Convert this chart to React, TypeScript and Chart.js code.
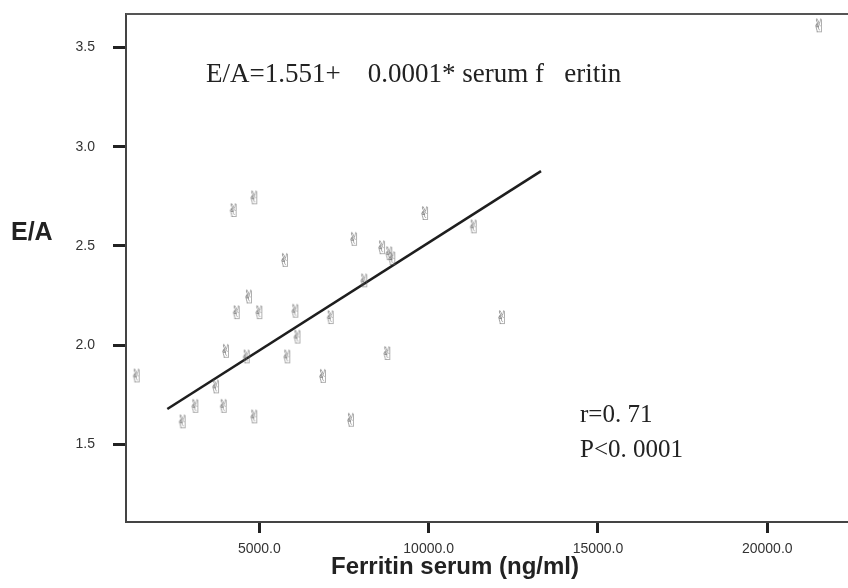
import React, { useEffect, useRef } from "react";
import { Chart, registerables } from "chart.js";

Chart.register(...registerables);

// Ferritin serum (ng/ml) vs E/A
const ferritin = [21527, 1379, 2737, 3110, 3721, 3948, 4016, 4243, 4332, 4627, 4695, 4852, 4852, 5000, 5758, 5826, 6063, 6127, 6880, 7108, 7707, 7796, 8100, 8623, 8838, 8927, 8779, 9893, 11331, 12166];
const ratioEA = [3.601, 1.838, 1.607, 1.685, 1.783, 1.685, 1.962, 2.671, 2.157, 1.934, 2.236, 2.735, 1.632, 2.157, 2.42, 1.934, 2.164, 2.034, 1.836, 2.132, 1.615, 2.526, 2.317, 2.484, 2.454, 2.429, 1.951, 2.656, 2.589, 2.132];
// regression line end points
const fitX = [2283, 13318];
const fitY = [1.679, 2.877];
// axis ticks
const xTicks = [5000, 10000, 15000, 20000];
const yTicks = [1.5, 2.0, 2.5, 3.0, 3.5];
const xRange = [1063, 22384];
const yRange = [1.11, 3.668];
// texts
const xTitle = "Ferritin serum (ng/ml)";
const yTitle = "E/A";
const equationText = "E/A=1.551+    0.0001* serum f   eritin";
const rText = "r=0. 71";
const pText = "P<0. 0001";

function makeMarker(): HTMLCanvasElement {
  const c = document.createElement("canvas");
  c.width = 16;
  c.height = 20;
  const g = c.getContext("2d")!;
  g.font = '18px "DejaVu Sans"';
  g.fillStyle = "#6a6a6a";
  g.textAlign = "center";
  g.textBaseline = "middle";
  g.fillText("\u270C", 8, 10.5);
  return c;
}

const textPlugin = {
  id: "textPlugin",
  afterDraw(chart: any) {
    const ctx = chart.ctx;
    const area = chart.chartArea;
    ctx.save();
    // top frame line
    ctx.strokeStyle = "#555";
    ctx.lineWidth = 2;
    ctx.beginPath();
    ctx.moveTo(area.left, area.top);
    ctx.lineTo(area.right, area.top);
    ctx.stroke();

    ctx.fillStyle = "#222";
    ctx.textBaseline = "middle";
    ctx.textAlign = "left";
    ctx.font = 'bold 25px "Liberation Sans", Arial, sans-serif';
    ctx.fillText(yTitle, 11, 233);
    ctx.textAlign = "center";
    ctx.font = 'bold 24px "Liberation Sans", Arial, sans-serif';
    ctx.fillText(xTitle, 455, 567);

    ctx.textAlign = "left";
    ctx.textBaseline = "alphabetic";
    ctx.font = '27px "Liberation Serif", "Times New Roman", serif';
    ctx.fillText(equationText, 206, 82);
    ctx.font = '25px "Liberation Serif", "Times New Roman", serif';
    ctx.fillText(rText, 580, 422);
    ctx.fillText(pText, 580, 457);
    ctx.restore();
  },
};

export default function App() {
  const ref = useRef<HTMLCanvasElement | null>(null);
  useEffect(() => {
    if (!ref.current) return;
    const marker = makeMarker();
    const tickFont = { family: '"Liberation Sans", Arial, sans-serif', size: 14 };
    const chart = new Chart(ref.current, {
      type: "scatter",
      data: {
        datasets: [
          {
            data: ferritin.map((x, i) => ({ x, y: ratioEA[i] })),
            pointStyle: marker as any,
            pointRadius: 6,
            showLine: false,
          },
          {
            data: fitX.map((x, i) => ({ x, y: fitY[i] })),
            showLine: true,
            borderColor: "#1e1e1e",
            borderWidth: 2.6,
            pointRadius: 0,
            fill: false,
          },
        ],
      },
      plugins: [textPlugin],
      options: {
        animation: false,
        responsive: false,
        devicePixelRatio: 1,
        layout: { autoPadding: false, padding: { top: 14, right: 0, left: 0, bottom: 0 } },
        plugins: { legend: { display: false }, tooltip: { enabled: false } },
        scales: {
          x: {
            type: "linear",
            min: xRange[0],
            max: xRange[1],
            afterBuildTicks: (s: any) => {
              s.ticks = xTicks.map((v) => ({ value: v }));
            },
            afterFit: (s: any) => {
              s.height = 66;
              s.paddingLeft = 0;
              s.paddingRight = 0;
            },
            ticks: {
              callback: (v: any) => Number(v).toFixed(1),
              font: tickFont,
              color: "#333",
              padding: 8,
              maxRotation: 0,
              autoSkip: false,
            },
            grid: {
              drawOnChartArea: false,
              drawTicks: true,
              tickLength: 11,
              tickWidth: 3,
              tickColor: "#222",
            },
            border: { display: true, color: "#444", width: 2 },
          },
          y: {
            type: "linear",
            min: yRange[0],
            max: yRange[1],
            afterBuildTicks: (s: any) => {
              s.ticks = yTicks.map((v) => ({ value: v }));
            },
            afterFit: (s: any) => {
              s.width = 126;
              s.paddingTop = 0;
              s.paddingBottom = 0;
            },
            ticks: {
              callback: (v: any) => Number(v).toFixed(1),
              font: tickFont,
              color: "#333",
              padding: 18,
              autoSkip: false,
            },
            grid: {
              drawOnChartArea: false,
              drawTicks: true,
              tickLength: 13,
              tickWidth: 3,
              tickColor: "#222",
            },
            border: { display: true, color: "#444", width: 2 },
          },
        },
      },
    });
    return () => chart.destroy();
  }, []);
  return (
    <div style={{ position: "fixed", left: 0, top: 0, width: 848, height: 588, background: "#fff" }}>
      <canvas ref={ref} width={848} height={588} style={{ width: 848, height: 588, display: "block" }} />
    </div>
  );
}
